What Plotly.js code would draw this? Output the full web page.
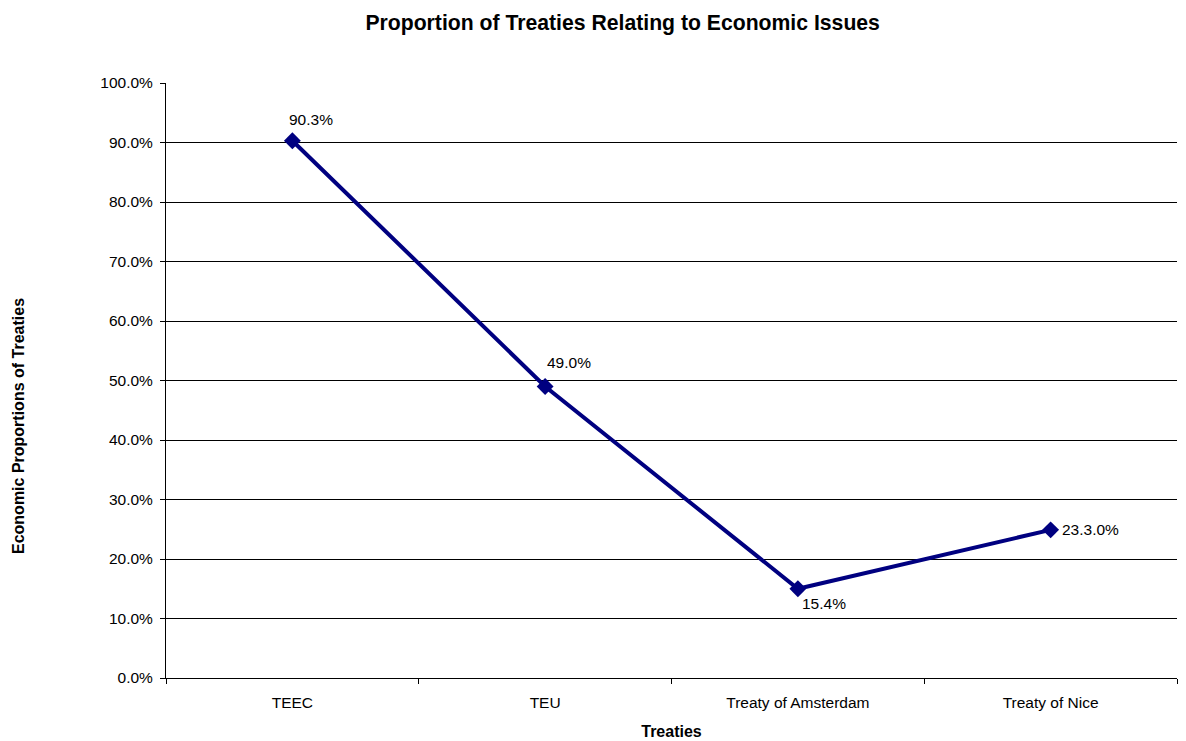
<!DOCTYPE html>
<html>
<head>
<meta charset="utf-8">
<script src="https://cdn.plot.ly/plotly-3.0.1.min.js"></script>
<style>html,body{margin:0;padding:0;background:#fff;}#chart{width:1186px;height:741px;}</style>
</head>
<body>
<div id="chart"></div>
<script>
const categories = ["TEEC", "TEU", "Treaty of Amsterdam", "Treaty of Nice"];
const values = [90.3, 49.0, 15.0, 24.9];
const labels = ["90.3%", "49.0%", "15.4%", "23.3.0%"];

// label offsets (style, in pixels) relative to each point
const labelShiftX = [-5, 0, 2, 9];
const labelShiftY = [21, 24, -15, 0];

const FONT = "Liberation Sans, Arial, sans-serif";

const trace = {
  x: categories,
  y: values,
  type: "scatter",
  mode: "lines+markers",
  line: {color: "#000080", width: 4},
  marker: {symbol: "diamond", size: 13, color: "#000080"},
  cliponaxis: false,
  hoverinfo: "x+y"
};

const annotations = categories.map((c, i) => ({
  x: c, y: values[i], xref: "x", yref: "y",
  text: labels[i], showarrow: false,
  xanchor: "left", yanchor: "middle",
  xshift: labelShiftX[i], yshift: labelShiftY[i],
  font: {family: FONT, size: 15.5, color: "#000"}
}));

annotations.push({
  xref: "paper", yref: "paper", x: -0.1464, y: 0.4235,
  xanchor: "center", yanchor: "middle", textangle: -90,
  text: "<b>Economic Proportions of Treaties</b>", showarrow: false,
  font: {family: FONT, size: 16, color: "#000"}
});

const layout = {
  width: 1186, height: 741,
  margin: {l: 166, r: 9, t: 83, b: 63},
  paper_bgcolor: "#fff", plot_bgcolor: "#fff",
  font: {family: FONT, size: 15.5, color: "#000"},
  showlegend: false,
  annotations: annotations,
  title: {text: "<b>Proportion of Treaties Relating to Economic Issues</b>", font: {size: 21.2, color: "#000"}, x: 0.525, xanchor: "center", y: 0.97, yanchor: "middle"},
  xaxis: {
    type: "category",
    range: [-0.5, 3.5],
    tickson: "boundaries",
    ticks: "outside", ticklen: 5, tickcolor: "#000",
    ticklabelstandoff: 10,
    showline: true, linecolor: "#000", linewidth: 1,
    showgrid: false, zeroline: false,
    tickfont: {size: 15.5},
    title: {text: "<b>Treaties</b>", font: {size: 16}, standoff: 16}
  },
  yaxis: {
    range: [0, 100], dtick: 10,
    tickformat: ".1f", ticksuffix: "%",
    ticks: "outside", ticklen: 5, tickcolor: "#000",
    ticklabelstandoff: 4,
    showline: true, linecolor: "#000", linewidth: 1,
    showgrid: true, gridcolor: "#000", gridwidth: 1,
    zeroline: false,
    tickfont: {size: 15.5}
  }
};

Plotly.newPlot("chart", [trace], layout, {displayModeBar: false, staticPlot: true});
</script>
</body>
</html>
